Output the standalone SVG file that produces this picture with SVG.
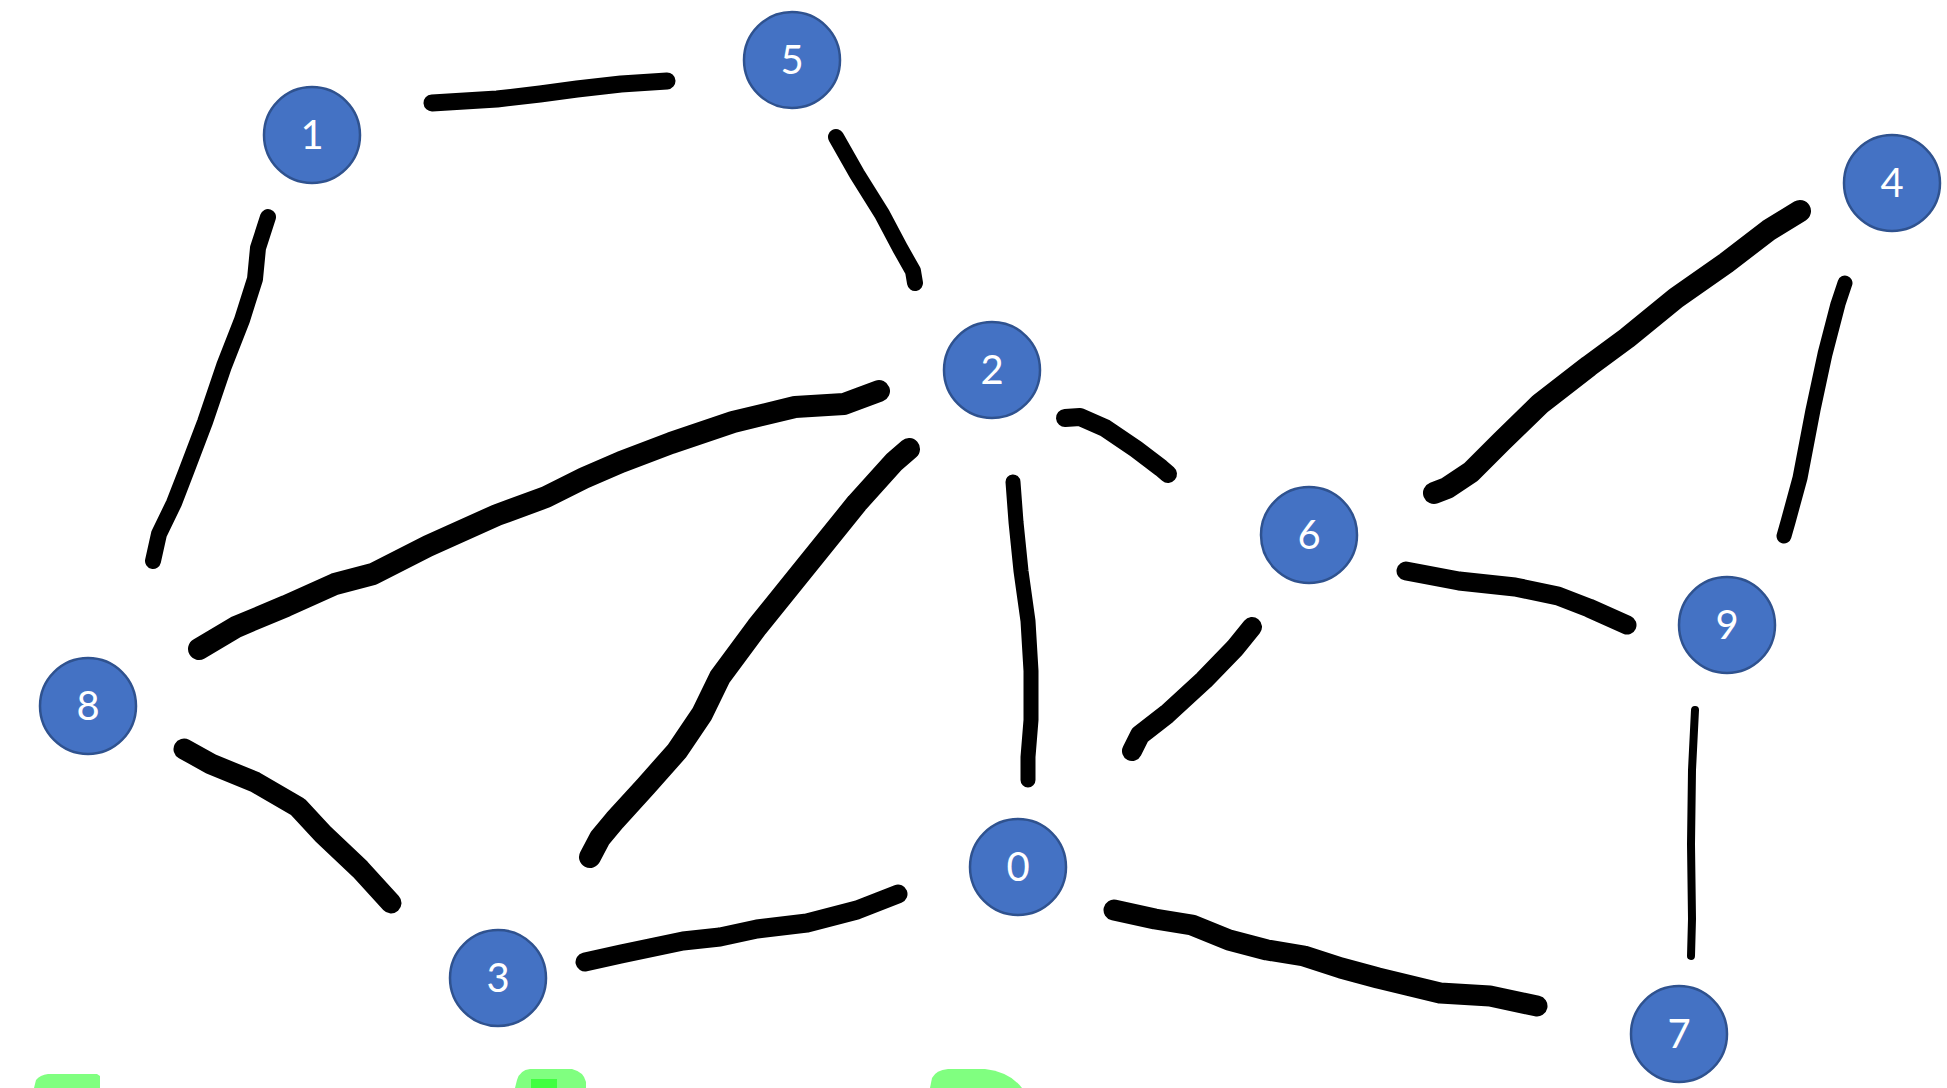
<svg xmlns="http://www.w3.org/2000/svg" width="1947" height="1088" viewBox="0 0 1947 1088">
<style>
.n circle{fill:#4472C4;stroke:#2F528F;stroke-width:2.5}
.n text{fill:#fff;font-family:"Lato","Liberation Sans",sans-serif;font-size:40px;text-anchor:middle}
.e polyline{fill:none;stroke:#000;stroke-linecap:round;stroke-linejoin:round;stroke-width:20}
.g{fill:#80FF80}
</style>
<rect width="1947" height="1088" fill="#fff"/>
<g id="connectors" class="e">
<polyline points="432,103 497,99 540,94 577,89 621,84 667,81" style="stroke-width:17"/>
<polyline points="836,137 857,174 882,214 900,248 913,271 915,283" style="stroke-width:16"/>
<polyline points="268,217 258,248 255,279 242,320 224,366 205,422 186,472 174,503 159,534 153,561" style="stroke-width:16"/>
<polyline points="199,649 236,627 286,606 335,584 373,574 428,546 497,515 546,497 584,478 621,462 671,443 733,422 795,407 844,404 879,391" style="stroke-width:22"/>
<polyline points="909,449 894,462 857,503 807,565 757,627 720,677 702,714 677,751 646,786 615,820 600,838 590,857" style="stroke-width:22"/>
<polyline points="1013,482 1016,522 1021,571 1028,621 1031,671 1031,720 1028,757 1028,780" style="stroke-width:15"/>
<polyline points="1065,418 1080,417 1105,428 1136,449 1161,468 1168,474" style="stroke-width:18"/>
<polyline points="1434,493 1447,488 1471,472 1502,441 1540,404 1589,366 1627,338 1676,298 1726,263 1769,230 1800,211" style="stroke-width:22"/>
<polyline points="1845,283 1838,304 1825,354 1813,410 1800,478 1788,522 1784,536" style="stroke-width:15"/>
<polyline points="1406,571 1422,574 1459,581 1515,587 1558,596 1589,608 1627,625" style="stroke-width:19"/>
<polyline points="1252,627 1235,648 1204,680 1167,714 1140,735 1132,751" style="stroke-width:20"/>
<polyline points="1695,710 1692,770 1691,844 1692,919 1691,956" style="stroke-width:8"/>
<polyline points="184,749 211,764 255,782 298,807 323,834 360,869 391,903" style="stroke-width:21"/>
<polyline points="585,962 621,954 683,941 720,937 757,929 807,923 857,910 898,894" style="stroke-width:19"/>
<polyline points="1114,910 1155,919 1192,925 1229,940 1267,950 1304,956 1341,968 1378,978 1440,993 1490,996 1537,1006" style="stroke-width:21"/>
</g>
<g id="node-1" class="n"><circle cx="312" cy="135" r="48"/><text x="312" y="149">1</text></g>
<g id="node-5" class="n"><circle cx="792" cy="60" r="48"/><text x="792" y="74">5</text></g>
<g id="node-4" class="n"><circle cx="1892" cy="183" r="48"/><text x="1892" y="197">4</text></g>
<g id="node-2" class="n"><circle cx="992" cy="370" r="48"/><text x="992" y="384">2</text></g>
<g id="node-6" class="n"><circle cx="1309" cy="535" r="48"/><text x="1309" y="549">6</text></g>
<g id="node-9" class="n"><circle cx="1727" cy="625" r="48"/><text x="1727" y="639">9</text></g>
<g id="node-8" class="n"><circle cx="88" cy="706" r="48"/><text x="88" y="720">8</text></g>
<g id="node-0" class="n"><circle cx="1018" cy="867" r="48"/><text x="1018" y="881">0</text></g>
<g id="node-3" class="n"><circle cx="498" cy="978" r="48"/><text x="498" y="992">3</text></g>
<g id="node-7" class="n"><circle cx="1679" cy="1034" r="48"/><text x="1679" y="1048">7</text></g>
<g id="green-shapes">
<path class="g" d="M34,1088 L36,1080 Q40,1075 48,1074 L97,1074 L100,1076 L100,1088 Z"/>
<path class="g" d="M515,1088 L517,1080 Q520,1070 530,1069 L572,1069 Q584,1072 586,1082 L586,1088 Z"/>
<rect x="531" y="1079" width="26" height="9" fill="#40FF40"/>
<path class="g" d="M930,1088 L932,1078 Q936,1070 948,1069 L985,1069 Q1010,1072 1022,1088 Z"/>
</g>
</svg>
